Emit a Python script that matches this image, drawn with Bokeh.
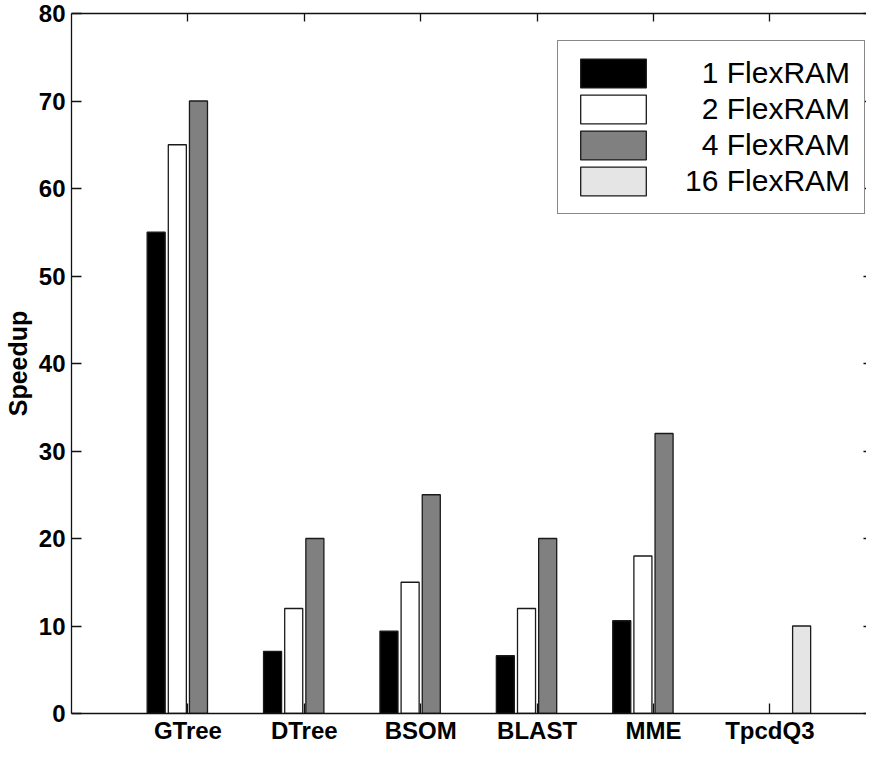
from bokeh.plotting import figure
from bokeh.models import Range1d, FixedTicker, LinearAxis, Legend, LegendItem, ColumnDataSource
from bokeh.embed import file_html
from bokeh.resources import INLINE

categories = ["GTree", "DTree", "BSOM", "BLAST", "MME", "TpcdQ3"]
series_names = ["\u20071 FlexRAM", "\u20072 FlexRAM", "\u20074 FlexRAM", "16 FlexRAM"]
flex1 = [55, 7.1, 9.4, 6.6, 10.6, 0]
flex2 = [65, 12, 15, 12, 18, 0]
flex4 = [70, 20, 25, 20, 32, 0]
flex16 = [0, 0, 0, 0, 0, 10]
y_ticks = [0, 10, 20, 30, 40, 50, 60, 70, 80]
colors = ["#000000", "#ffffff", "#808080", "#e5e5e5"]

series = [flex1, flex2, flex4, flex16]
FONT = "Liberation Sans"

p = figure(width=866, height=746, output_backend="svg", toolbar_location=None,
           x_range=Range1d(0, 6.83), y_range=Range1d(0, 80),
           min_border_left=64, min_border_right=0, min_border_top=13, min_border_bottom=20)
p.xaxis.visible = False
p.yaxis.visible = False
p.xgrid.visible = False
p.ygrid.visible = False
p.outline_line_color = None
p.background_fill_color = "white"

cat_pos = list(range(1, len(categories) + 1))
n = len(series)
slot = 0.727 / n
bar_w = 0.155
items = []
for j, vals in enumerate(series):
    xs = [c + (j - (n - 1) / 2) * slot for c, v in zip(cat_pos, vals) if v > 0]
    tops = [v for v in vals if v > 0]
    src = ColumnDataSource(dict(x=xs, top=tops))
    r = p.vbar(x="x", top="top", bottom=0, width=bar_w, source=src,
               fill_color=colors[j], line_color="#1a1a1a", line_width=1.3)
    items.append(LegendItem(label=series_names[j], renderers=[r]))

def style_axis(ax, labels=True, tick_in=10):
    ax.axis_line_color = "#111111"
    ax.axis_line_width = 1.3
    ax.major_tick_line_color = "#111111"
    ax.major_tick_line_width = 1.3
    ax.major_tick_in = tick_in
    ax.major_tick_out = 0
    ax.minor_tick_line_color = None
    if labels:
        ax.major_label_text_font = FONT
        ax.major_label_text_font_style = "bold"
        ax.major_label_text_font_size = "24px"
        ax.major_label_text_color = "black"
    else:
        ax.major_label_text_font_size = "0px"
        ax.major_label_standoff = 0

xb = LinearAxis(ticker=FixedTicker(ticks=cat_pos),
                major_label_overrides={c: l for c, l in zip(cat_pos, categories)})
style_axis(xb)
xb.major_label_standoff = 3
p.add_layout(xb, "below")

xt = LinearAxis(ticker=FixedTicker(ticks=cat_pos))
style_axis(xt, labels=False, tick_in=8)
p.add_layout(xt, "above")

yl = LinearAxis(ticker=FixedTicker(ticks=y_ticks), axis_label="Speedup")
style_axis(yl)
yl.major_label_standoff = 6
yl.axis_label_text_font = FONT
yl.axis_label_text_font_style = "bold"
yl.axis_label_text_font_size = "25px"
yl.axis_label_text_color = "black"
yl.axis_label_standoff = 4
p.add_layout(yl, "left")

yr = LinearAxis(ticker=FixedTicker(ticks=y_ticks))
style_axis(yr, labels=False, tick_in=3)
yr.axis_line_color = None
p.add_layout(yr, "right")

legend = Legend(items=items, location=(486, 499), orientation="vertical",
                glyph_width=82, glyph_height=36, label_height=35, spacing=0,
                padding=14, margin=0, label_standoff=31,
                label_text_font=FONT, label_text_font_size="30px",
                label_text_color="black",
                border_line_color="#111111", border_line_width=1.3,
                background_fill_color="white", background_fill_alpha=1)
p.add_layout(legend, "center")

open("out.html", "w").write(file_html(p, INLINE))
